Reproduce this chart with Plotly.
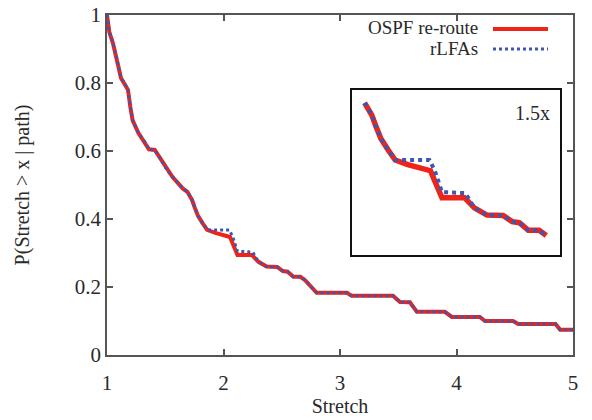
import numpy as np
import plotly.graph_objects as go

# rLFAs curve (blue dotted)
rlfa_x = [1.0, 1.02, 1.05, 1.08, 1.10, 1.12, 1.15, 1.18, 1.20, 1.22, 1.27, 1.33, 1.36, 1.41,
          1.455, 1.515, 1.56, 1.60, 1.65, 1.69, 1.73, 1.755, 1.78, 1.82, 1.86, 2.05, 2.08,
          2.12, 2.25, 2.30, 2.37, 2.46, 2.51, 2.55, 2.60, 2.66, 2.70, 2.80, 3.06, 3.10,
          3.455, 3.515, 3.60, 3.66, 3.90, 3.96, 4.20, 4.245, 4.485, 4.53, 4.85, 4.89, 5.0]
rlfa_y = [1.0, 0.95, 0.918, 0.88, 0.845, 0.815, 0.80, 0.78, 0.73, 0.69, 0.653, 0.624, 0.605, 0.603,
          0.579, 0.544, 0.525, 0.509, 0.49, 0.48, 0.456, 0.432, 0.41, 0.388, 0.368, 0.368, 0.347,
          0.305, 0.303, 0.274, 0.26, 0.259, 0.247, 0.245, 0.23, 0.23, 0.22, 0.183, 0.183, 0.174,
          0.174, 0.156, 0.155, 0.127, 0.127, 0.112, 0.112, 0.10, 0.10, 0.091, 0.091, 0.074, 0.074]

# OSPF re-route curve (red solid)
ospf_x = [1.0, 1.02, 1.05, 1.08, 1.10, 1.12, 1.15, 1.18, 1.20, 1.22, 1.27, 1.33, 1.36, 1.41,
          1.455, 1.515, 1.56, 1.60, 1.65, 1.69, 1.73, 1.755, 1.78, 1.82, 1.86, 1.93, 2.0,
          2.056, 2.10, 2.12, 2.245, 2.30, 2.37, 2.46, 2.51, 2.55, 2.60, 2.66, 2.70, 2.80, 3.06, 3.10,
          3.455, 3.515, 3.60, 3.66, 3.90, 3.96, 4.20, 4.245, 4.485, 4.53, 4.85, 4.89, 5.0]
ospf_y = [1.0, 0.95, 0.918, 0.88, 0.845, 0.815, 0.80, 0.78, 0.73, 0.69, 0.653, 0.624, 0.605, 0.603,
          0.579, 0.544, 0.525, 0.509, 0.49, 0.48, 0.456, 0.432, 0.41, 0.388, 0.368, 0.359, 0.353,
          0.347, 0.31, 0.294, 0.294, 0.274, 0.26, 0.259, 0.247, 0.245, 0.23, 0.23, 0.22, 0.183, 0.183, 0.174,
          0.174, 0.156, 0.155, 0.127, 0.127, 0.112, 0.112, 0.10, 0.10, 0.091, 0.091, 0.074, 0.074]

series_names = ["OSPF re-route", "rLFAs"]
x_ticks = [1, 2, 3, 4, 5]
y_ticks = [0, 0.2, 0.4, 0.6, 0.8, 1]
y_tick_text = ["0", "0.2", "0.4", "0.6", "0.8", "1"]
inset_window = [1.67, 2.71]
inset_label = "1.5x"

RED = "#ee2418"
BLUE = "#3f56b0"
FONT = "Liberation Serif"
TXT = "#2a2a2a"

fig = go.Figure()
fig.add_trace(go.Scatter(x=ospf_x, y=ospf_y, mode="lines", name=series_names[0],
                         line=dict(color=RED, width=4), showlegend=False))
fig.add_trace(go.Scatter(x=rlfa_x, y=rlfa_y, mode="lines", name=series_names[1],
                         line=dict(color=BLUE, width=3, dash="dot"), showlegend=False))

# inset (magnified view)
ox, oy = np.array(ospf_x), np.array(ospf_y)
rx, ry = np.array(rlfa_x), np.array(rlfa_y)
mo = (ox >= inset_window[0]) & (ox <= inset_window[1])
mr = (rx >= inset_window[0]) & (rx <= inset_window[1])
fig.add_trace(go.Scatter(x=ox[mo], y=oy[mo], mode="lines", xaxis="x2", yaxis="y2",
                         line=dict(color=RED, width=5.5), showlegend=False))
fig.add_trace(go.Scatter(x=rx[mr], y=ry[mr], mode="lines", xaxis="x2", yaxis="y2",
                         line=dict(color=BLUE, width=4, dash="dot"), showlegend=False))

axis_common = dict(showgrid=False, zeroline=False, showline=True, linecolor="#555555",
                   linewidth=1.5, mirror="allticks", ticks="inside", ticklen=6,
                   tickcolor="#555555", tickwidth=1.5, automargin=False,
                   tickfont=dict(family=FONT, size=21, color=TXT))

fig.update_layout(
    width=592, height=420,
    margin=dict(l=107, r=19, t=15, b=65, autoexpand=False),
    paper_bgcolor="white", plot_bgcolor="white",
    xaxis=dict(range=[1, 5], tickvals=x_ticks, ticktext=[str(v) for v in x_ticks],
               ticklabelstandoff=8,
               title=dict(text="Stretch", font=dict(family=FONT, size=20, color=TXT), standoff=4),
               **axis_common),
    yaxis=dict(range=[0, 1], tickvals=y_ticks, ticktext=y_tick_text,
               title=dict(text="P(Stretch > x | path)", font=dict(family=FONT, size=20, color=TXT), standoff=40),
               **axis_common),
    xaxis2=dict(domain=[0.5258, 0.9721], anchor="y2", range=[1.62, 2.776],
                showgrid=False, zeroline=False, showticklabels=False, ticks="",
                showline=True, mirror=True, linecolor="#111111", linewidth=2),
    yaxis2=dict(domain=[0.294, 0.779], anchor="x2", range=[0.1815, 0.505],
                showgrid=False, zeroline=False, showticklabels=False, ticks="",
                showline=True, mirror=True, linecolor="#111111", linewidth=2),
    showlegend=False,
)

# legend drawn gnuplot-style: text on the left, sample on the right
fig.add_annotation(x=0.8004, y=0.962, xref="paper", yref="paper", text=series_names[0],
                   showarrow=False, xanchor="right", yanchor="middle",
                   font=dict(family=FONT, size=19, color=TXT))
fig.add_annotation(x=0.8004, y=0.9, xref="paper", yref="paper", text=series_names[1],
                   showarrow=False, xanchor="right", yanchor="middle",
                   font=dict(family=FONT, size=19, color=TXT))
fig.add_shape(type="line", xref="paper", yref="paper", x0=0.8283, x1=0.9464, y0=0.9588, y1=0.9588,
              line=dict(color=RED, width=4))
fig.add_shape(type="line", xref="paper", yref="paper", x0=0.8283, x1=0.9464, y0=0.9, y1=0.9,
              line=dict(color=BLUE, width=3, dash="dot"))
fig.add_annotation(x=0.955, y=0.7118, xref="paper", yref="paper", text=inset_label,
                   showarrow=False, xanchor="right", yanchor="middle",
                   font=dict(family=FONT, size=20, color=TXT))

fig.write_html("out.html", config={"displayModeBar": False},
               post_script="document.body.style.margin='0';document.body.style.padding='0';")
